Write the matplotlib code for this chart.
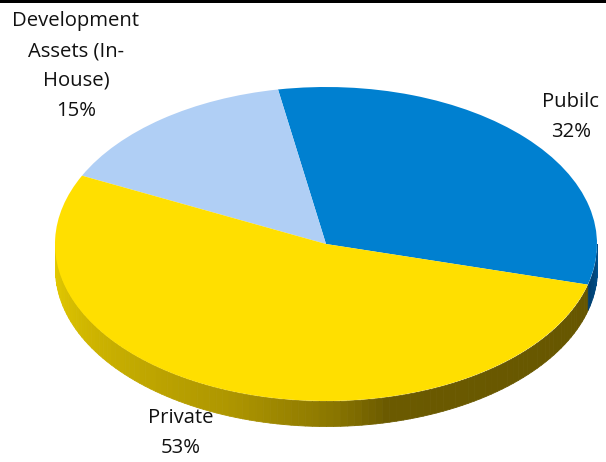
import numpy as np
import matplotlib
matplotlib.use('Agg')
import matplotlib.pyplot as plt
from matplotlib.colors import LinearSegmentedColormap

# slices, counter-clockwise from the lower right
labels = ['Pubilc', 'Development\nAssets (In-\nHouse)', 'Private']
shares = [32, 15, 53]
colors = ['#0080D0', '#B0CFF5', '#FFDF00']

W, H = 606, 462
cx, cy = 326, 244
rx, ry = 271, 157
depth = 25 / ry
start = -15

plt.rcParams['font.family'] = 'Open Sans'

fig = plt.figure(figsize=(W / 100, H / 100), dpi=100)
ax = fig.add_axes([0, 0, 1, 1])

# rim of the disc, shaded from left to right
yellow_rim = LinearSegmentedColormap.from_list(
    'yrim', [(0, '#E6CC00'), (0.42, '#AD9500'), (0.55, '#8A7600'), (0.62, '#6B5A00'), (1, '#665600')])
blue_rim = LinearSegmentedColormap.from_list('brim', ['#003F70', '#00528F'])

steps = np.arange(180, 360 + start + 0.5, 1.5)
for a0, a1 in zip(steps[:-1], steps[1:]):
    t = np.radians([a0, a1])
    ax.fill_between(np.cos(t), np.sin(t), np.sin(t) - depth, linewidth=0.6,
                    color=yellow_rim((a0 - 180) / (360 + start - 180)), zorder=1)
steps = np.arange(start, 0.5, 1.5)
for a0, a1 in zip(steps[:-1], steps[1:]):
    t = np.radians([a0, a1])
    ax.fill_between(np.cos(t), np.sin(t), np.sin(t) - depth, linewidth=0.6,
                    color=blue_rim((a0 - start) / -start), zorder=1)

wedges, _ = ax.pie(shares, colors=colors, startangle=start, counterclock=True,
                   radius=1, center=(0, 0), wedgeprops={'linewidth': 0})
for w in wedges:
    w.set_zorder(2)

# stretch the circle into the tilted ellipse
ax.set_aspect('auto')
ax.set_xlim(-cx / rx, (W - cx) / rx)
ax.set_ylim((cy - H) / ry, cy / ry)
ax.axis('off')

# black rule along the top
fig.patches.append(plt.Rectangle((0, 1 - 3 / H), 1, 3 / H, transform=fig.transFigure,
                                 color='black', linewidth=0))

label_pos = [(571, 117), (76, 66), (181, 433)]
for name, share, (x, y) in zip(labels, shares, label_pos):
    fig.text(x / W, 1 - y / H, f'{name}\n{share}%', ha='center', va='center',
             fontsize=14.6, color='#111111', linespacing=1.66, zorder=5)

fig.savefig('out.png', dpi=100, facecolor='white')
